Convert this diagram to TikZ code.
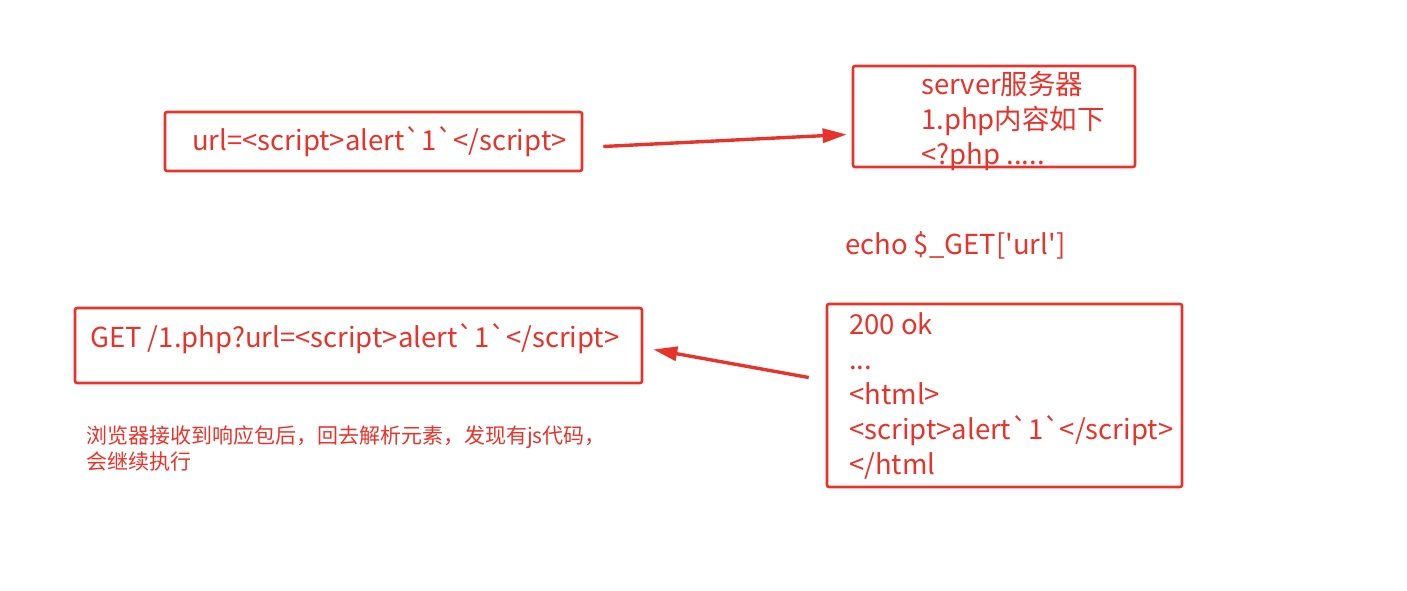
\documentclass[tikz,border=0pt]{standalone}
\usepackage{fontspec}
\setmainfont{Noto Sans CJK SC}
\usepackage{xcolor}
\usetikzlibrary{arrows.meta, calc, positioning}
\definecolor{xssred}{HTML}{E8332A}
\newcommand{\bt}{\textasciigrave}

\begin{document}
\begin{tikzpicture}[x=1pt, y=-1pt,
  redbox/.style  = {draw=xssred, line width=2.6pt, rounded corners=2pt, inner sep=0pt},
  redtxt/.style  = {text=xssred, anchor=west, inner sep=0pt, font=\fontsize{27.5}{35}\selectfont, align=left},
  notetxt/.style = {text=xssred, anchor=north west, inner sep=0pt, font=\fontsize{21}{26}\selectfont, align=left},
  fatarr/.style  = {-{Triangle[length=24pt,width=14pt]}, line width=3.4pt, color=xssred},
]
\useasboundingbox (0,0) rectangle (1407,591);
%%--- request box and server ---
\node[redbox, minimum width=417, minimum height=59] (urlbox) at (373.5,141.5) {};
\node[redtxt] (urltxt) at (192,142) {url=<script>alert\bt1\bt</script>};
\node[redbox, minimum width=282, minimum height=101] (srvbox) at (994,116.5) {};
\node[redtxt] (srvtxt) at (921,121) {server服务器\\1.php内容如下\\<?php .....};
\coordinate (a1tail) at ($(urlbox.east)+(20,5)$);
\draw[fatarr] (a1tail) -- ($(srvbox.west)+(-5,18)$);
%%--- echo ---
\node[redtxt] (echotxt) at (845,245) {echo \$\_GET[\textquotesingle url\textquotesingle]};
%%--- response box and browser ---
\node[redbox, minimum width=355, minimum height=183] (respbox) at (1004.5,395.5) {};
\node[redtxt] (resptxt) at (849,396) {200 ok\\...\\<html>\\<script>alert\bt1\bt</script>\\</html};
\node[redbox, minimum width=567, minimum height=75] (getbox) at (358.5,345.5) {};
\node[redtxt] (gettxt) at (90,339) {GET /1.php?url=<script>alert\bt1\bt</script>};
\coordinate (a2tail) at ($(respbox.west)+(-17,-18)$);
\draw[fatarr] (a2tail) -- ($(getbox.east)+(10,4)$);
%%--- note ---
\node[notetxt] (note) at (86,425) {浏览器接收到响应包后，回去解析元素，发现有js代码，\\会继续执行};
\end{tikzpicture}
\end{document}
